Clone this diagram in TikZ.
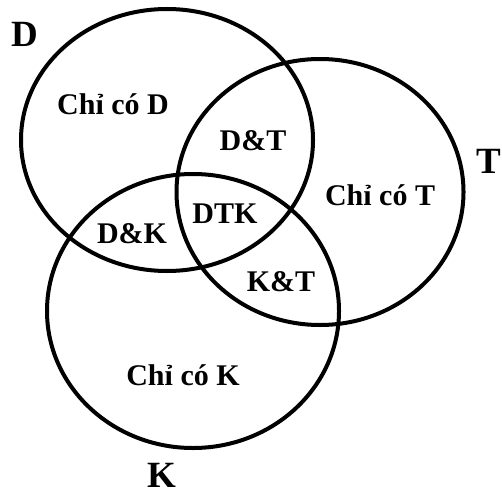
\documentclass[tikz,border=0pt]{standalone}
\usepackage{fontspec}
\setmainfont{Liberation Serif}
\usetikzlibrary{shapes.geometric, positioning}

\begin{document}
\begin{tikzpicture}[x=1pt, y=-1pt]
      % Define the styles
      \tikzstyle{venn}=[ellipse, draw, line width=4pt, inner sep=0pt]
      \tikzstyle{region}=[anchor=base, inner sep=0pt, font=\bfseries\fontsize{30}{36}\selectfont]
      \tikzstyle{setname}=[anchor=base, inner sep=0pt, font=\bfseries\fontsize{37}{42}\selectfont]

      \useasboundingbox (0,0) rectangle (502,497);

      % Sets
      \node[venn, minimum width=292pt, minimum height=262pt] (setD) at (167,140) {};
      \node[venn, minimum width=287pt, minimum height=266pt] (setT) at (320,192) {};
      \node[venn, minimum width=292pt, minimum height=274pt] (setK) at (193,311) {};

      % Set names
      \node[setname] (nameD) at (25,47) {D};
      \node[setname] (nameT) at (489,173) {T};
      \node[setname] (nameK) at (162,487) {K};

      % Regions
      \node[region] (onlyD) at (113,115) {Chỉ có D};
      \node[region] (onlyT) at (380,205) {Chỉ có T};
      \node[region] (onlyK) at (183,385) {Chỉ có K};
      \node[region] (DT) at (253,150) {D\&T};
      \node[region] (DK) at (132,243) {D\&K};
      \node[region] (KT) at (281,291) {K\&T};
      \node[region] (DTK) at (225,223) {DTK};

    \end{tikzpicture}
\end{document}
